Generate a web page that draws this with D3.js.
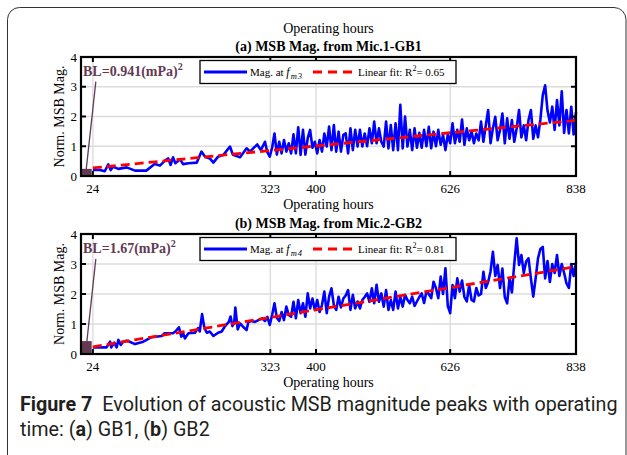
<!DOCTYPE html>
<html lang="en">
<head>
  <meta charset="UTF-8">
  <script src="https://d3js.org/d3.v7.min.js"></script>
  <style>
    body { margin: 0; background: #fff; }
    svg text { font-family: "Liberation Serif", "Times New Roman", serif; }
  </style>
</head>
<body>
  <svg id="fig" width="627" height="455"></svg>
  <script>
    // ---- data ----
    const hourTicks = [24, 323, 400, 626, 838];
    const magTicks = [0, 1, 2, 3, 4];

    // early, sparse measurements
    const sparseHoursA = [24, 36, 44, 50, 54, 58, 67, 81, 95, 114, 128, 137, 145, 151, 155, 159, 163, 171, 176, 185,
      199, 207, 213, 221, 227, 235, 244, 255, 260, 272, 283, 289, 294, 301, 307];
    const sparseMagA = [0.20, 0.20, 0.16, 0.39, 0.20, 0.31, 0.24, 0.29, 0.18, 0.18, 0.40, 0.35, 0.51, 0.59, 0.37, 0.63,
      0.43, 0.56, 0.40, 0.43, 0.45, 0.82, 0.65, 0.59, 0.45, 0.65, 0.71, 0.99, 0.71, 0.63, 0.93, 0.82, 0.93, 1.06, 0.87];

    const sparseHoursB = [24, 47, 53, 55, 60, 64, 67, 71, 75, 81, 86, 95, 109, 123, 140, 145, 159, 163, 169, 173,
      176, 179, 185, 196, 201, 204, 208, 212, 216, 221, 227, 235, 241, 246, 253, 256, 259, 262, 264, 268,
      272, 277, 283, 286, 291, 297, 303, 309];
    const sparseMagB = [0.22, 0.22, 0.41, 0.22, 0.38, 0.22, 0.47, 0.30, 0.41, 0.44, 0.41, 0.33, 0.41, 0.56, 0.60, 0.69,
      0.69, 0.75, 0.89, 0.58, 0.69, 0.52, 0.69, 0.71, 0.86, 0.75, 1.33, 0.86, 0.71, 0.75, 0.60, 0.71, 0.75, 0.91,
      1.07, 1.25, 0.93, 1.02, 1.55, 0.82, 1.02, 0.91, 0.80, 1.07, 1.10, 1.07, 1.13, 1.19];

    // dense measurements, every 4 operating hours from 314 h to 838 h
    const denseHours = d3.range(314, 839, 4);
    const denseMagA = [
      1.15, 0.80, 0.65, 0.95, 1.43, 0.72, 1.15, 0.76, 1.21, 0.82,
      1.10, 0.76, 1.40, 0.76, 1.64, 0.71, 1.55, 0.72, 1.27, 1.55,
      0.95, 1.15, 0.76, 1.21, 0.82, 1.43, 0.99, 1.66, 0.87, 1.71,
      0.82, 1.49, 0.82, 1.38, 1.43, 0.76, 1.60, 0.87, 1.55, 0.99,
      1.55, 0.99, 1.43, 1.00, 1.60, 1.10, 1.83, 1.10, 1.60, 1.15,
      0.99, 1.83, 0.93, 1.71, 0.87, 1.77, 0.87, 2.39, 0.93, 2.00,
      0.99, 1.55, 0.87, 1.60, 0.95, 1.45, 0.95, 1.55, 1.00, 1.65,
      0.93, 1.49, 1.00, 1.55, 1.05, 1.38, 0.87, 1.40, 1.10, 1.77,
      1.10, 1.55, 1.15, 1.90, 1.05, 1.60, 1.20, 1.50, 1.10, 1.43,
      1.20, 1.83, 1.15, 1.70, 2.22, 1.10, 1.60, 1.99, 1.20, 1.55,
      2.10, 1.10, 1.94, 1.25, 1.88, 1.15, 1.60, 2.22, 1.30, 1.70,
      1.20, 1.88, 2.22, 1.25, 1.70, 1.30, 1.90, 2.72, 3.05, 2.20,
      1.80, 2.33, 1.55, 2.55, 1.70, 2.85, 1.45, 2.22, 1.43, 2.33,
      1.40, 2.15];
    const denseMagB = [
      1.10, 1.24, 0.97, 1.30, 1.69, 1.20, 1.10, 1.40, 1.13, 1.58,
      1.30, 1.24, 1.74, 1.19, 1.80, 1.36, 1.69, 1.24, 2.02, 1.52,
      1.85, 1.47, 1.80, 1.40, 1.63, 2.08, 1.36, 1.91, 2.19, 1.63,
      1.47, 1.91, 1.55, 1.85, 1.95, 2.13, 1.47, 1.97, 1.52, 1.75,
      1.52, 1.80, 1.90, 2.02, 1.74, 2.19, 1.69, 2.31, 1.74, 2.02,
      1.58, 2.13, 1.47, 1.80, 1.47, 2.08, 1.52, 1.91, 1.58, 1.97,
      1.80, 1.69, 1.91, 1.60, 1.75, 1.90, 2.02, 1.70, 2.08, 2.00,
      1.86, 2.41, 2.20, 1.86, 2.58, 2.00, 2.86, 1.60, 1.36, 2.30,
      1.86, 2.52, 2.08, 2.45, 1.90, 1.75, 2.30, 1.80, 1.75, 2.20,
      1.95, 2.00, 2.74, 2.20, 2.40, 2.75, 3.41, 2.60, 2.97, 2.20,
      2.85, 1.90, 1.69, 2.52, 2.05, 3.00, 3.86, 2.97, 3.30, 2.70,
      3.08, 3.19, 2.52, 1.91, 2.52, 3.19, 3.50, 3.57, 2.52, 3.10,
      2.40, 3.00, 2.70, 3.30, 2.60, 3.00, 2.70, 2.35, 2.20, 3.00,
      2.60, 3.05];

    // linear fits (end points)
    const fitHours = [24, 838];
    const fitMagA = [0.27, 1.87];
    const fitMagB = [0.24, 2.91];

    // baseline (BL) bar and its pointer
    const blHours = [4, 22];
    const blMag = [0.24, 0.43];
    const blPointerHours = [12, 29];
    const blPointerMag = [0.08, 3.17];
    const blLabels = ["BL=0.941(mPa)", "BL=1.67(mPa)"];

    const panelTitles = ["(a) MSB Mag. from Mic.1-GB1", "(b) MSB Mag. from Mic.2-GB2"];
    const freqLabels = ["m3", "m4"];
    const r2Labels = ["0.65", "0.81"];

    // ---- layout ----
    const svg = d3.select("#fig");
    const plotLeft = 81, plotRight = 576;
    const panelBoxes = [{ top: 57, bottom: 176 }, { top: 234, bottom: 354 }];
    const maroon = "#633a52";

    // outer frame
    svg.append("rect")
      .attr("x", 7.5).attr("y", 7.5).attr("width", 618.5).attr("height", 470)
      .attr("rx", 12).attr("fill", "none").attr("stroke", "#333").attr("stroke-width", 1);

    const x = d3.scaleLinear().domain([4, 838]).range([plotLeft, plotRight]);

    svg.append("text")
      .attr("x", (plotLeft + plotRight) / 2).attr("y", 33)
      .attr("text-anchor", "middle").attr("font-size", 14)
      .text("Operating hours");

    const series = [
      { sh: sparseHoursA, sm: sparseMagA, dm: denseMagA, fit: fitMagA },
      { sh: sparseHoursB, sm: sparseMagB, dm: denseMagB, fit: fitMagB }
    ];

    series.forEach((s, k) => {
      const box = panelBoxes[k];
      const y = d3.scaleLinear().domain([0, 4]).range([box.bottom, box.top]);
      const g = svg.append("g");

      const points = s.sh.map((h, i) => [h, s.sm[i]])
        .concat(denseHours.map((h, i) => [h, s.dm[i]]));

      // grid
      g.selectAll("line.vgrid").data(hourTicks).join("line")
        .attr("class", "vgrid")
        .attr("x1", d => x(d)).attr("x2", d => x(d))
        .attr("y1", box.top).attr("y2", box.bottom)
        .attr("stroke", "#dcdcdc").attr("stroke-width", 1.4);
      g.selectAll("line.hgrid").data(magTicks.slice(1, -1)).join("line")
        .attr("class", "hgrid")
        .attr("x1", plotLeft).attr("x2", plotRight)
        .attr("y1", d => y(d)).attr("y2", d => y(d))
        .attr("stroke", "#dcdcdc").attr("stroke-width", 1.4);

      // baseline bar + pointer
      g.append("rect")
        .attr("x", x(blHours[0])).attr("width", x(blHours[1]) - x(blHours[0]))
        .attr("y", y(blMag[k])).attr("height", y(0) - y(blMag[k]))
        .attr("fill", maroon);
      g.append("line")
        .attr("x1", x(blPointerHours[0])).attr("y1", y(blPointerMag[0]))
        .attr("x2", x(blPointerHours[1])).attr("y2", y(blPointerMag[1]))
        .attr("stroke", maroon).attr("stroke-width", 1.3);

      // measured magnitude
      const line = d3.line().x(d => x(d[0])).y(d => y(d[1]));
      g.append("path").datum(points)
        .attr("d", line)
        .attr("fill", "none").attr("stroke", "#0000ff")
        .attr("stroke-width", 2.6).attr("stroke-linejoin", "round");

      // linear fit
      g.append("path").datum(fitHours.map((h, i) => [h, s.fit[i]]))
        .attr("d", line)
        .attr("fill", "none").attr("stroke", "#ff0000")
        .attr("stroke-width", 2.8).attr("stroke-dasharray", "9,5");

      // axes box
      g.append("rect")
        .attr("x", plotLeft).attr("y", box.top)
        .attr("width", plotRight - plotLeft).attr("height", box.bottom - box.top)
        .attr("fill", "none").attr("stroke", "#000").attr("stroke-width", 2.2);

      // inward ticks on all four sides
      const tl = 5;
      g.selectAll("line.xtb").data(hourTicks).join("line")
        .attr("class", "xtb")
        .attr("x1", d => x(d)).attr("x2", d => x(d))
        .attr("y1", box.bottom).attr("y2", box.bottom - tl)
        .attr("stroke", "#000").attr("stroke-width", 2);
      g.selectAll("line.xtt").data(hourTicks).join("line")
        .attr("class", "xtt")
        .attr("x1", d => x(d)).attr("x2", d => x(d))
        .attr("y1", box.top).attr("y2", box.top + tl)
        .attr("stroke", "#000").attr("stroke-width", 2);
      g.selectAll("line.ytl").data(magTicks).join("line")
        .attr("class", "ytl")
        .attr("x1", plotLeft).attr("x2", plotLeft + tl)
        .attr("y1", d => y(d)).attr("y2", d => y(d))
        .attr("stroke", "#000").attr("stroke-width", 2);
      g.selectAll("line.ytr").data(magTicks).join("line")
        .attr("class", "ytr")
        .attr("x1", plotRight).attr("x2", plotRight - tl)
        .attr("y1", d => y(d)).attr("y2", d => y(d))
        .attr("stroke", "#000").attr("stroke-width", 2);

      // tick labels
      g.selectAll("text.xl").data(hourTicks).join("text")
        .attr("class", "xl")
        .attr("x", d => x(d)).attr("y", box.bottom + 17)
        .attr("text-anchor", "middle").attr("font-size", 13)
        .text(d => d);
      g.selectAll("text.yl").data(magTicks).join("text")
        .attr("class", "yl")
        .attr("x", plotLeft - 4).attr("y", d => y(d) + 4.5)
        .attr("text-anchor", "end").attr("font-size", 13)
        .text(d => d);

      // axis labels and title
      g.append("text")
        .attr("x", (plotLeft + plotRight) / 2).attr("y", box.bottom + 33)
        .attr("text-anchor", "middle").attr("font-size", 14)
        .text("Operating hours");
      g.append("text")
        .attr("transform", `translate(64,${(box.top + box.bottom) / 2}) rotate(-90)`)
        .attr("text-anchor", "middle").attr("font-size", 14)
        .text("Norm. MSB Mag.");
      g.append("text")
        .attr("x", (plotLeft + plotRight) / 2).attr("y", box.top - 6)
        .attr("text-anchor", "middle").attr("font-size", 14).attr("font-weight", "bold")
        .text(panelTitles[k]);

      // BL label
      const bl = g.append("text")
        .attr("x", 83).attr("y", box.top + 19)
        .attr("font-size", 14).attr("font-weight", "bold").attr("fill", maroon);
      bl.append("tspan").text(blLabels[k]);
      bl.append("tspan").attr("dy", -6).attr("font-size", 10).text("2");

      // legend
      const lg = g.append("g").attr("transform", `translate(200,${box.top + 3.5})`);
      lg.append("rect").attr("width", 256).attr("height", 23)
        .attr("fill", "#fff").attr("stroke", "#000").attr("stroke-width", 1.3);
      lg.append("line").attr("x1", 4).attr("x2", 47).attr("y1", 11.5).attr("y2", 11.5)
        .attr("stroke", "#0000ff").attr("stroke-width", 2.8);
      const t1 = lg.append("text").attr("x", 50).attr("y", 15).attr("font-size", 11);
      t1.append("tspan").text("Mag. at ");
      t1.append("tspan").attr("font-style", "italic").attr("font-size", 12).text("f");
      t1.append("tspan").attr("dy", 3.5).attr("dx", 1).attr("font-style", "italic")
        .attr("font-size", 8.5).attr("letter-spacing", 1).text(freqLabels[k]);
      lg.append("line").attr("x1", 113).attr("x2", 155).attr("y1", 11.5).attr("y2", 11.5)
        .attr("stroke", "#ff0000").attr("stroke-width", 2.8).attr("stroke-dasharray", "9,6");
      const t2 = lg.append("text").attr("x", 158).attr("y", 15).attr("font-size", 11);
      t2.append("tspan").text("Linear fit:  R");
      t2.append("tspan").attr("dy", -5).attr("font-size", 8).text("2");
      t2.append("tspan").attr("dy", 5).text("= " + r2Labels[k]);
    });

    // caption: size the font so line 1 spans x = 20..620 as in the reference
    const capFont = "Roboto, 'Open Sans', 'Noto Sans', sans-serif";
    const cap1 = svg.append("text").attr("x", 20).attr("y", 411)
      .attr("font-size", 20).attr("fill", "#231f20")
      .style("font-family", capFont);
    cap1.append("tspan").attr("font-weight", "bold").text("Figure 7");
    cap1.append("tspan").text("\u2002Evolution of acoustic MSB magnitude peaks with operating");
    const cap2 = svg.append("text").attr("x", 20).attr("y", 436)
      .attr("font-size", 20).attr("fill", "#231f20")
      .style("font-family", capFont);
    cap2.append("tspan").text("time: (");
    cap2.append("tspan").attr("font-weight", "bold").text("a");
    cap2.append("tspan").text(") GB1, (");
    cap2.append("tspan").attr("font-weight", "bold").text("b");
    cap2.append("tspan").text(") GB2");

    const w1 = cap1.node().getComputedTextLength();
    const capSize = Math.min(21, 20 * 598 / w1);
    cap1.attr("font-size", capSize);
    cap2.attr("font-size", capSize);
  </script>
</body>
</html>
